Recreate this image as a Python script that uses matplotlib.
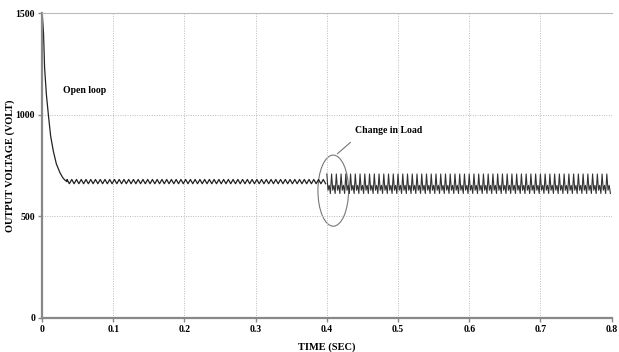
import matplotlib
matplotlib.use("Agg")
import matplotlib.pyplot as plt
from matplotlib.patches import Ellipse
import numpy as np

# ---- data ----
transient_t = [0.0, 0.0004, 0.002, 0.0035, 0.006, 0.0088, 0.012, 0.0157, 0.020, 0.025, 0.029, 0.032, 0.035]
transient_v = [425, 1485, 1400, 1232, 1100, 1000, 895, 822, 758, 715, 690, 678, 670]

ripple_period = 1 / 150.0          # s, read from counting ripples
pre_start, pre_end = 0.035, 0.400
pre_levels = [681, 660]            # peak / trough before load change
post_start, post_end = 0.400, 0.800
post_levels = [708, 628, 652, 612] # spike, band, bump, trough after load change

xticks = [0, 0.1, 0.2, 0.3, 0.4, 0.5, 0.6, 0.7, 0.8]
xticklabels = ["0", "0.1", "0.2", "0.3", "0.4", "0.5", "0.6", "0.7", "0.8"]
yticks = [0, 500, 1000, 1500]
yticklabels = ["0", "500", "1000", "1500"]


def ripple(start, end, levels):
    n_cycles = int(round((end - start) / ripple_period))
    step = ripple_period / len(levels)
    ts, vs = [], []
    for c in range(n_cycles):
        for j, lv in enumerate(levels):
            ts.append(start + c * ripple_period + j * step)
            vs.append(lv)
    return ts, vs


pre_t, pre_v = ripple(pre_start, pre_end, pre_levels)
post_t, post_v = ripple(post_start, post_end, post_levels)

serif = ["Liberation Serif", "DejaVu Serif"]

fig = plt.figure(figsize=(6.19, 3.52), dpi=100)
ax = fig.add_axes([0.068, 0.097, 0.920, 0.866])

ax.plot(transient_t + pre_t, transient_v + pre_v, color="#222222", lw=0.9)
ax.plot(post_t, post_v, color="#333333", lw=0.8)

ax.set_xlim(0, 0.8)
ax.set_ylim(0, 1500)
ax.set_xticks(xticks)
ax.set_xticklabels(xticklabels, fontfamily=serif, fontweight="bold", fontsize=7)
ax.set_yticks(yticks)
ax.set_yticklabels(yticklabels, fontfamily=serif, fontweight="bold", fontsize=7)
ax.tick_params(axis="both", length=3, width=1, color="#888888", pad=2)

ax.grid(True, color="#bbbbbb", linestyle=(0, (1, 1.5)), linewidth=0.7)
for s in ["left", "bottom"]:
    ax.spines[s].set_color("#888888")
    ax.spines[s].set_linewidth(1.6)
ax.spines["top"].set_color("#bbbbbb")
ax.spines["top"].set_linewidth(0.8)
ax.spines["right"].set_visible(False)

ax.set_xlabel("TIME (SEC)", fontfamily=serif, fontweight="bold", fontsize=7.5, labelpad=6)
ax.set_ylabel("OUTPUT VOLTAGE (VOLT)", fontfamily=serif, fontweight="bold", fontsize=7.5)
ax.yaxis.set_label_coords(-0.048, 0.5)

ax.text(0.030, 1119, "Open loop", fontfamily=serif, fontweight="bold", fontsize=7, va="center")
ax.text(0.439, 922, "Change in Load", fontfamily=serif, fontweight="bold", fontsize=7, va="center")

ell = Ellipse((0.409, 626), width=0.043, height=350, fill=False, edgecolor="#777777", lw=0.8)
ax.add_patch(ell)
ax.plot([0.415, 0.433], [808, 863], color="#777777", lw=0.8)

fig.savefig("out.png", dpi=100)
